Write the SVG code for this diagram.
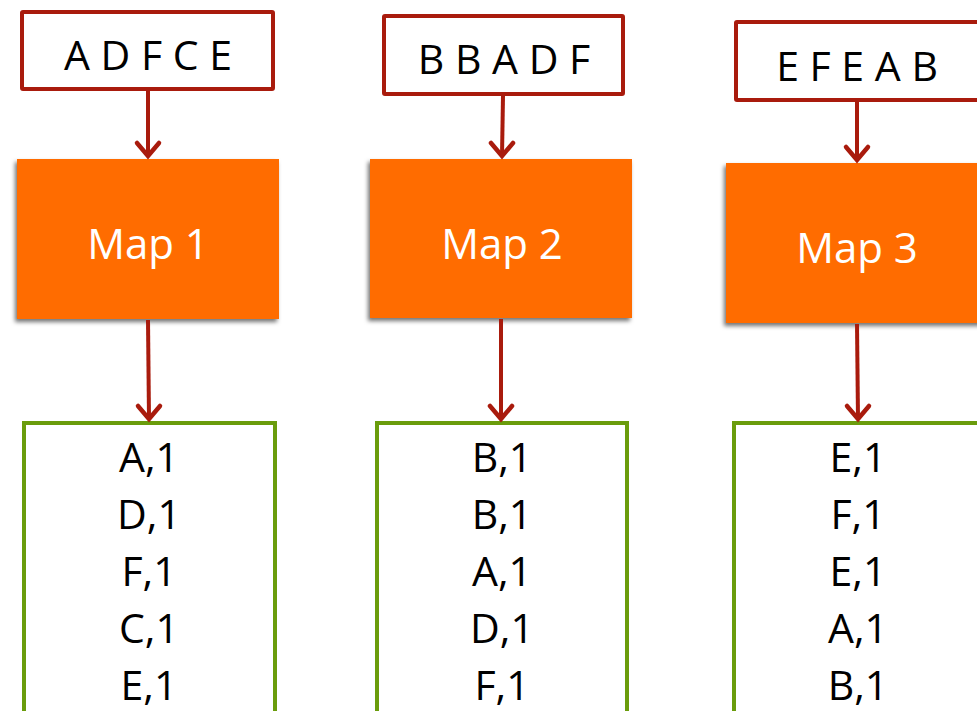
<svg xmlns="http://www.w3.org/2000/svg" width="977" height="711" viewBox="0 0 977 711">
  <defs>
    <style>
      .inp { fill: #ffffff; stroke: #A91B0D; stroke-width: 4; }
      .map { fill: #FF6C00; filter: url(#sh); }
      .out { fill: #ffffff; stroke: #6A9C0C; stroke-width: 4; }
      .t { font-family: "Open Sans", "Liberation Sans", sans-serif; font-size: 41px; text-anchor: middle; fill: #000; }
      .tm { font-family: "Open Sans", "Liberation Sans", sans-serif; font-size: 42px; text-anchor: middle; fill: #ffffff; }
      .c { stroke: #A91B0D; stroke-width: 4; fill: none; }
      .ah { stroke: #A91B0D; stroke-width: 4.5; fill: none; stroke-linecap: round; stroke-linejoin: miter; }
    </style>
    <filter id="sh" x="-10%" y="-10%" width="120%" height="125%">
      <feDropShadow dx="-2" dy="3" stdDeviation="2" flood-color="#000" flood-opacity="0.55"/>
    </filter>
  </defs>
  <rect width="977" height="711" fill="#ffffff"/>

  <g id="input1">
    <rect class="inp" x="22" y="12" width="251" height="77" rx="1"/>
    <text class="t" x="148" y="70">A D F C E</text>
  </g>
  <g id="input2">
    <rect class="inp" x="384" y="16" width="239" height="78" rx="1"/>
    <text class="t" x="504" y="74">B B A D F</text>
  </g>
  <g id="input3">
    <rect class="inp" x="736" y="22" width="243" height="78" rx="1"/>
    <text class="t" x="857" y="81">E F E A B</text>
  </g>

  <g id="map1">
    <rect class="map" x="17" y="159" width="262" height="160"/>
    <text class="tm" x="148" y="259">Map 1</text>
  </g>
  <g id="map2">
    <rect class="map" x="370" y="159" width="262" height="159"/>
    <text class="tm" x="502" y="259">Map 2</text>
  </g>
  <g id="map3">
    <rect class="map" x="726" y="163" width="262" height="160"/>
    <text class="tm" x="857" y="263">Map 3</text>
  </g>

  <g id="out1">
    <rect class="out" x="24" y="423" width="251" height="300"/>
    <text class="t" x="149" y="472">A,1</text>
    <text class="t" x="149" y="529">D,1</text>
    <text class="t" x="149" y="586">F,1</text>
    <text class="t" x="149" y="643">C,1</text>
    <text class="t" x="149" y="700">E,1</text>
  </g>
  <g id="out2">
    <rect class="out" x="377" y="423" width="250" height="300"/>
    <text class="t" x="502" y="472">B,1</text>
    <text class="t" x="502" y="529">B,1</text>
    <text class="t" x="502" y="586">A,1</text>
    <text class="t" x="502" y="643">D,1</text>
    <text class="t" x="502" y="700">F,1</text>
  </g>
  <g id="out3">
    <rect class="out" x="734" y="423" width="260" height="300"/>
    <text class="t" x="858" y="472">E,1</text>
    <text class="t" x="858" y="529">F,1</text>
    <text class="t" x="858" y="586">E,1</text>
    <text class="t" x="858" y="643">A,1</text>
    <text class="t" x="858" y="700">B,1</text>
  </g>

  <g id="connectors">
    <line class="c" x1="148" y1="91" x2="148" y2="156"/>
    <polyline class="ah" points="137,143 148,156 159,143"/>
    <line class="c" x1="503" y1="96" x2="502" y2="156"/>
    <polyline class="ah" points="491,143 502,156 513,143"/>
    <line class="c" x1="857" y1="102" x2="857" y2="160"/>
    <polyline class="ah" points="846,147 857,160 868,147"/>

    <line class="c" x1="148" y1="320" x2="149" y2="419"/>
    <polyline class="ah" points="138,406 149,419 160,406"/>
    <line class="c" x1="501" y1="319" x2="501" y2="419"/>
    <polyline class="ah" points="490,406 501,419 512,406"/>
    <line class="c" x1="857" y1="324" x2="858" y2="419"/>
    <polyline class="ah" points="847,406 858,419 869,406"/>
  </g>
</svg>
